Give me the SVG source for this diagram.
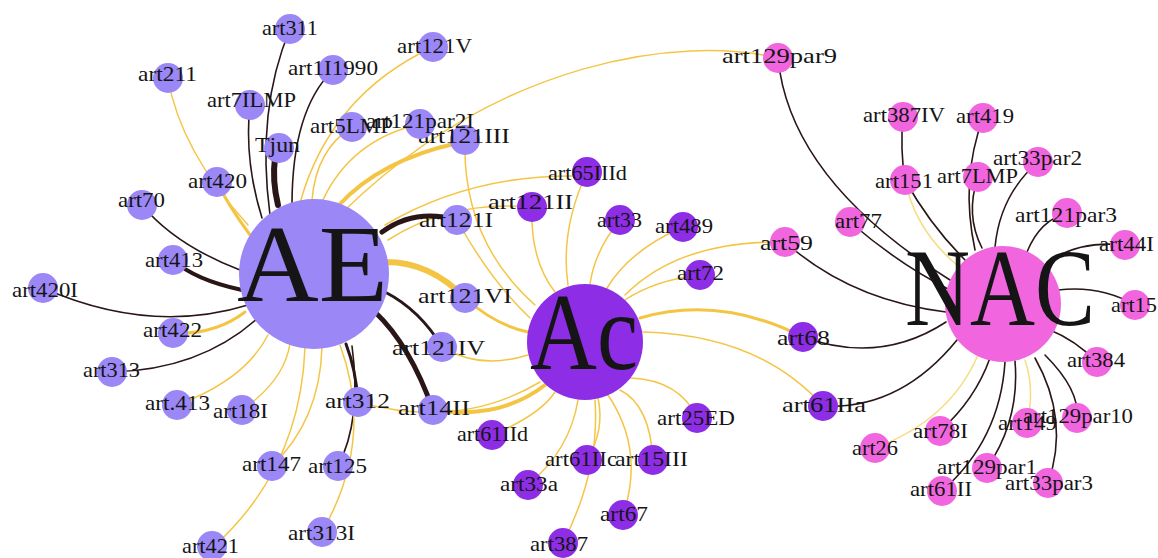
<svg xmlns="http://www.w3.org/2000/svg" width="1158" height="558" viewBox="0 0 1158 558">
<style>
.e{fill:none;stroke-linecap:round}
.d{stroke:#2a1616}
.y{stroke:#f4c545}
.yl{stroke:#f7dc80}
.a{fill:#9b87f5}
.c{fill:#8e2de6}
.p{fill:#f166de}
text{font-family:"Liberation Serif","Times New Roman",serif;fill:#151515;font-size:21px}
.big{font-size:110px}
</style>
<rect width="1158" height="558" fill="#ffffff"/>
<g id="connectors">
<path class="e d" stroke-width="1.6" d="M290 29 Q256 110 270 215"/>
<path class="e d" stroke-width="1.6" d="M250 105 Q244 160 262 218"/>
<path class="e d" stroke-width="6" d="M275 158 Q272 180 278 205"/>
<path class="e d" stroke-width="1.6" d="M333 70 Q292 110 292 205"/>
<path class="e y" stroke-width="1.5" d="M168 78 Q180 150 248 225"/>
<path class="e y" stroke-width="3" d="M217 182 Q228 205 250 235"/>
<path class="e y" stroke-width="1.5" d="M433 47 Q330 95 300 203"/>
<path class="e y" stroke-width="1.5" d="M352 127 Q316 150 312 200"/>
<path class="e y" stroke-width="1.5" d="M420 124 Q350 140 322 202"/>
<path class="e y" stroke-width="4" d="M458 143 Q380 160 338 206"/>
<path class="e y" stroke-width="1.5" d="M778 58 C680 35 500 60 345 210"/>
<path class="e y" stroke-width="1.5" d="M575 176 Q470 175 385 225"/>
<path class="e y" stroke-width="1.5" d="M532 207 Q450 200 388 240"/>
<path class="e d" stroke-width="5" d="M457 220 Q415 208 382 232"/>
<path class="e y" stroke-width="6" d="M465 298 Q430 262 386 262"/>
<path class="e d" stroke-width="3" d="M442 347 Q420 310 385 292"/>
<path class="e d" stroke-width="5" d="M433 410 Q410 345 375 312"/>
<path class="e d" stroke-width="3" d="M358 402 Q356 370 346 344"/>
<path class="e d" stroke-width="1.6" d="M338 466 Q362 420 352 346"/>
<path class="e y" stroke-width="1.5" d="M322 532 Q375 440 340 345"/>
<path class="e y" stroke-width="1.5" d="M272 466 Q320 420 322 347"/>
<path class="e y" stroke-width="1.5" d="M212 548 Q300 470 305 348"/>
<path class="e y" stroke-width="1.5" d="M242 410 Q285 380 290 343"/>
<path class="e y" stroke-width="1.5" d="M177 405 Q245 380 268 335"/>
<path class="e d" stroke-width="1.6" d="M112 372 Q200 370 258 318"/>
<path class="e y" stroke-width="3" d="M173 333 Q215 335 245 312"/>
<path class="e d" stroke-width="1.6" d="M43 288 Q150 335 248 305"/>
<path class="e d" stroke-width="4" d="M173 260 Q195 280 242 290"/>
<path class="e d" stroke-width="1.6" d="M142 205 Q175 245 240 270"/>
<path class="e y" stroke-width="1.5" d="M465 140 Q462 240 535 305"/>
<path class="e y" stroke-width="1.5" d="M457 220 Q490 280 530 318"/>
<path class="e y" stroke-width="1.5" d="M532 207 Q530 260 555 292"/>
<path class="e y" stroke-width="1.5" d="M587 172 Q560 230 568 285"/>
<path class="e y" stroke-width="1.5" d="M620 220 Q595 250 590 284"/>
<path class="e y" stroke-width="1.5" d="M683 227 Q630 250 607 288"/>
<path class="e y" stroke-width="1.5" d="M700 275 Q655 280 625 300"/>
<path class="e y" stroke-width="1.5" d="M785 242 Q680 240 625 295"/>
<path class="e y" stroke-width="3" d="M803 337 Q720 295 640 318"/>
<path class="e y" stroke-width="1.5" d="M823 406 Q760 335 643 332"/>
<path class="e y" stroke-width="1.5" d="M697 418 Q680 380 630 378"/>
<path class="e y" stroke-width="1.5" d="M653 460 Q650 405 620 390"/>
<path class="e y" stroke-width="1.5" d="M623 515 Q645 450 608 395"/>
<path class="e y" stroke-width="1.5" d="M587 460 Q605 430 598 398"/>
<path class="e y" stroke-width="1.5" d="M563 543 Q600 470 595 400"/>
<path class="e y" stroke-width="1.5" d="M528 485 Q570 450 578 400"/>
<path class="e y" stroke-width="1.5" d="M492 435 Q540 415 555 392"/>
<path class="e y" stroke-width="4" d="M433 410 Q500 420 545 385"/>
<path class="e y" stroke-width="1.5" d="M358 402 Q460 430 540 382"/>
<path class="e y" stroke-width="1.5" d="M442 347 Q480 370 528 355"/>
<path class="e y" stroke-width="3" d="M465 298 Q495 325 528 332"/>
<path class="e d" stroke-width="1.6" d="M778 58 Q790 180 950 280"/>
<path class="e d" stroke-width="1.6" d="M850 222 Q900 265 950 290"/>
<path class="e d" stroke-width="1.6" d="M903 117 Q900 150 905 180"/>
<path class="e yl" stroke-width="1.5" d="M905 180 Q915 230 958 266"/>
<path class="e d" stroke-width="1.6" d="M905 180 Q930 225 965 260"/>
<path class="e d" stroke-width="1.6" d="M983 118 Q960 180 975 250"/>
<path class="e d" stroke-width="1.6" d="M978 177 Q965 215 982 248"/>
<path class="e d" stroke-width="1.6" d="M1038 162 Q1000 195 995 247"/>
<path class="e d" stroke-width="1.6" d="M1067 213 Q1040 220 1027 252"/>
<path class="e d" stroke-width="1.6" d="M1125 245 Q1075 240 1045 265"/>
<path class="e d" stroke-width="1.6" d="M1135 305 Q1100 285 1058 290"/>
<path class="e d" stroke-width="1.6" d="M1097 362 Q1075 340 1050 330"/>
<path class="e d" stroke-width="1.6" d="M1077 418 Q1080 390 1045 355"/>
<path class="e d" stroke-width="1.6" d="M1048 483 Q1070 420 1035 358"/>
<path class="e yl" stroke-width="1.5" d="M1027 423 Q1035 390 1025 360"/>
<path class="e d" stroke-width="1.6" d="M987 468 Q1020 420 1015 361"/>
<path class="e d" stroke-width="1.6" d="M942 491 Q1000 440 1005 362"/>
<path class="e d" stroke-width="1.6" d="M940 431 Q975 400 990 358"/>
<path class="e yl" stroke-width="1.5" d="M875 448 Q950 420 978 355"/>
<path class="e d" stroke-width="1.6" d="M823 406 Q900 410 957 340"/>
<path class="e d" stroke-width="1.6" d="M803 337 Q880 365 946 322"/>
<path class="e d" stroke-width="1.6" d="M785 242 Q850 300 946 312"/>
</g>
<g id="node-AE"><circle class="a" cx="314" cy="274" r="75"/><text class="big" x="237" y="301" font-size="118" textLength="151" lengthAdjust="spacingAndGlyphs">AE</text></g>
<g id="node-Ac"><circle class="c" cx="585" cy="342" r="58"/><text class="big" x="530" y="369" font-size="100" textLength="108" lengthAdjust="spacingAndGlyphs">Ac</text></g>
<g id="node-NAC"><circle class="p" cx="1003" cy="304" r="58"/><text class="big" x="905" y="325" font-size="97" textLength="190" lengthAdjust="spacingAndGlyphs">NAC</text></g>
<g id="node-art311"><circle class="a" cx="290" cy="29" r="15"/><text x="262" y="35" textLength="56" lengthAdjust="spacingAndGlyphs">art311</text></g>
<g id="node-art211"><circle class="a" cx="168" cy="78" r="15"/><text x="138" y="81" textLength="59" lengthAdjust="spacingAndGlyphs">art211</text></g>
<g id="node-art7ILMP"><circle class="a" cx="250" cy="105" r="15"/><text x="207" y="107" textLength="89" lengthAdjust="spacingAndGlyphs">art7ILMP</text></g>
<g id="node-Tjun"><circle class="a" cx="279" cy="148" r="15"/><text x="255" y="152" textLength="45" lengthAdjust="spacingAndGlyphs">Tjun</text></g>
<g id="node-art1I1990"><circle class="a" cx="333" cy="70" r="15"/><text x="288" y="75" textLength="90" lengthAdjust="spacingAndGlyphs">art1I1990</text></g>
<g id="node-art121V"><circle class="a" cx="433" cy="47" r="15"/><text x="397" y="53" textLength="75" lengthAdjust="spacingAndGlyphs">art121V</text></g>
<g id="node-art5LMP"><circle class="a" cx="352" cy="127" r="15"/><text x="310" y="133" textLength="83" lengthAdjust="spacingAndGlyphs">art5LMP</text></g>
<g id="node-art121III"><circle class="a" cx="465" cy="140" r="15"/><text x="418" y="143" textLength="92" lengthAdjust="spacingAndGlyphs">art121III</text></g>
<g id="node-art121par2I"><circle class="a" cx="420" cy="124" r="15"/><text x="366" y="128" textLength="108" lengthAdjust="spacingAndGlyphs">art121par2I</text></g>
<g id="node-art420"><circle class="a" cx="217" cy="182" r="15"/><text x="188" y="188" textLength="59" lengthAdjust="spacingAndGlyphs">art420</text></g>
<g id="node-art70"><circle class="a" cx="142" cy="205" r="15"/><text x="118" y="207" textLength="47" lengthAdjust="spacingAndGlyphs">art70</text></g>
<g id="node-art413"><circle class="a" cx="173" cy="260" r="15"/><text x="145" y="267" textLength="58" lengthAdjust="spacingAndGlyphs">art413</text></g>
<g id="node-art420I"><circle class="a" cx="43" cy="288" r="15"/><text x="12" y="297" textLength="66" lengthAdjust="spacingAndGlyphs">art420I</text></g>
<g id="node-art422"><circle class="a" cx="173" cy="333" r="15"/><text x="143" y="337" textLength="59" lengthAdjust="spacingAndGlyphs">art422</text></g>
<g id="node-art313"><circle class="a" cx="112" cy="372" r="15"/><text x="83" y="377" textLength="57" lengthAdjust="spacingAndGlyphs">art313</text></g>
<g id="node-art.413"><circle class="a" cx="177" cy="405" r="15"/><text x="145" y="410" textLength="65" lengthAdjust="spacingAndGlyphs">art.413</text></g>
<g id="node-art18I"><circle class="a" cx="242" cy="410" r="15"/><text x="213" y="418" textLength="55" lengthAdjust="spacingAndGlyphs">art18I</text></g>
<g id="node-art147"><circle class="a" cx="272" cy="466" r="15"/><text x="242" y="471" textLength="59" lengthAdjust="spacingAndGlyphs">art147</text></g>
<g id="node-art421"><circle class="a" cx="212" cy="546" r="15"/><text x="182" y="553" textLength="57" lengthAdjust="spacingAndGlyphs">art421</text></g>
<g id="node-art312"><circle class="a" cx="358" cy="402" r="15"/><text x="325" y="408" textLength="65" lengthAdjust="spacingAndGlyphs">art312</text></g>
<g id="node-art125"><circle class="a" cx="338" cy="466" r="15"/><text x="308" y="473" textLength="59" lengthAdjust="spacingAndGlyphs">art125</text></g>
<g id="node-art313I"><circle class="a" cx="322" cy="532" r="15"/><text x="288" y="540" textLength="67" lengthAdjust="spacingAndGlyphs">art313I</text></g>
<g id="node-art14II"><circle class="a" cx="433" cy="410" r="15"/><text x="398" y="415" textLength="72" lengthAdjust="spacingAndGlyphs">art14II</text></g>
<g id="node-art121IV"><circle class="a" cx="442" cy="347" r="15"/><text x="392" y="355" textLength="93" lengthAdjust="spacingAndGlyphs">art121IV</text></g>
<g id="node-art121VI"><circle class="a" cx="465" cy="298" r="15"/><text x="418" y="303" textLength="94" lengthAdjust="spacingAndGlyphs">art121VI</text></g>
<g id="node-art121I"><circle class="a" cx="457" cy="220" r="15"/><text x="419" y="227" textLength="74" lengthAdjust="spacingAndGlyphs">art121I</text></g>
<g id="node-art65IIId"><circle class="c" cx="587" cy="172" r="15"/><text x="548" y="180" textLength="79" lengthAdjust="spacingAndGlyphs">art65IIId</text></g>
<g id="node-art121II"><circle class="c" cx="532" cy="207" r="15"/><text x="488" y="209" textLength="85" lengthAdjust="spacingAndGlyphs">art121II</text></g>
<g id="node-art33"><circle class="c" cx="620" cy="220" r="15"/><text x="597" y="227" textLength="45" lengthAdjust="spacingAndGlyphs">art33</text></g>
<g id="node-art489"><circle class="c" cx="683" cy="227" r="15"/><text x="655" y="233" textLength="58" lengthAdjust="spacingAndGlyphs">art489</text></g>
<g id="node-art72"><circle class="c" cx="700" cy="275" r="15"/><text x="677" y="280" textLength="47" lengthAdjust="spacingAndGlyphs">art72</text></g>
<g id="node-art68"><circle class="c" cx="803" cy="337" r="15"/><text x="777" y="345" textLength="53" lengthAdjust="spacingAndGlyphs">art68</text></g>
<g id="node-art61IIa"><circle class="c" cx="823" cy="406" r="15"/><text x="782" y="412" font-size="22" textLength="84" lengthAdjust="spacingAndGlyphs">art61IIa</text></g>
<g id="node-art25ED"><circle class="c" cx="697" cy="418" r="15"/><text x="657" y="425" textLength="78" lengthAdjust="spacingAndGlyphs">art25ED</text></g>
<g id="node-art15III"><circle class="c" cx="653" cy="460" r="15"/><text x="615" y="466" textLength="73" lengthAdjust="spacingAndGlyphs">art15III</text></g>
<g id="node-art61IIc"><circle class="c" cx="587" cy="460" r="15"/><text x="545" y="466" textLength="72" lengthAdjust="spacingAndGlyphs">art61IIc</text></g>
<g id="node-art67"><circle class="c" cx="623" cy="515" r="15"/><text x="600" y="521" textLength="48" lengthAdjust="spacingAndGlyphs">art67</text></g>
<g id="node-art387"><circle class="c" cx="563" cy="543" r="15"/><text x="530" y="551" textLength="58" lengthAdjust="spacingAndGlyphs">art387</text></g>
<g id="node-art33a"><circle class="c" cx="528" cy="485" r="15"/><text x="500" y="491" textLength="58" lengthAdjust="spacingAndGlyphs">art33a</text></g>
<g id="node-art61IId"><circle class="c" cx="492" cy="435" r="15"/><text x="457" y="441" textLength="71" lengthAdjust="spacingAndGlyphs">art61IId</text></g>
<g id="node-art129par9"><circle class="p" cx="778" cy="58" r="15"/><text x="722" y="63" font-size="22" textLength="115" lengthAdjust="spacingAndGlyphs">art129par9</text></g>
<g id="node-art387IV"><circle class="p" cx="903" cy="117" r="15"/><text x="863" y="122" textLength="82" lengthAdjust="spacingAndGlyphs">art387IV</text></g>
<g id="node-art419"><circle class="p" cx="983" cy="118" r="15"/><text x="956" y="123" textLength="58" lengthAdjust="spacingAndGlyphs">art419</text></g>
<g id="node-art151"><circle class="p" cx="905" cy="180" r="15"/><text x="875" y="188" textLength="58" lengthAdjust="spacingAndGlyphs">art151</text></g>
<g id="node-art7LMP"><circle class="p" cx="978" cy="177" r="15"/><text x="937" y="183" textLength="81" lengthAdjust="spacingAndGlyphs">art7LMP</text></g>
<g id="node-art33par2"><circle class="p" cx="1038" cy="162" r="15"/><text x="993" y="165" textLength="89" lengthAdjust="spacingAndGlyphs">art33par2</text></g>
<g id="node-art77"><circle class="p" cx="850" cy="222" r="15"/><text x="835" y="228" textLength="47" lengthAdjust="spacingAndGlyphs">art77</text></g>
<g id="node-art59"><circle class="p" cx="785" cy="242" r="15"/><text x="760" y="250" font-size="22" textLength="53" lengthAdjust="spacingAndGlyphs">art59</text></g>
<g id="node-art121par3"><circle class="p" cx="1067" cy="213" r="15"/><text x="1015" y="222" textLength="102" lengthAdjust="spacingAndGlyphs">art121par3</text></g>
<g id="node-art44I"><circle class="p" cx="1125" cy="245" r="15"/><text x="1099" y="251" textLength="55" lengthAdjust="spacingAndGlyphs">art44I</text></g>
<g id="node-art15"><circle class="p" cx="1135" cy="305" r="15"/><text x="1111" y="312" textLength="46" lengthAdjust="spacingAndGlyphs">art15</text></g>
<g id="node-art384"><circle class="p" cx="1097" cy="362" r="15"/><text x="1067" y="367" textLength="58" lengthAdjust="spacingAndGlyphs">art384</text></g>
<g id="node-art149"><circle class="p" cx="1027" cy="423" r="15"/><text x="998" y="430" textLength="59" lengthAdjust="spacingAndGlyphs">art149</text></g>
<g id="node-art129par10"><circle class="p" cx="1077" cy="418" r="15"/><text x="1023" y="423" textLength="110" lengthAdjust="spacingAndGlyphs">art129par10</text></g>
<g id="node-art78I"><circle class="p" cx="940" cy="431" r="15"/><text x="913" y="438" textLength="55" lengthAdjust="spacingAndGlyphs">art78I</text></g>
<g id="node-art26"><circle class="p" cx="875" cy="448" r="15"/><text x="852" y="455" textLength="46" lengthAdjust="spacingAndGlyphs">art26</text></g>
<g id="node-art61II"><circle class="p" cx="942" cy="491" r="15"/><text x="910" y="496" textLength="62" lengthAdjust="spacingAndGlyphs">art61II</text></g>
<g id="node-art129par1"><circle class="p" cx="987" cy="468" r="15"/><text x="937" y="474" textLength="100" lengthAdjust="spacingAndGlyphs">art129par1</text></g>
<g id="node-art33par3"><circle class="p" cx="1048" cy="483" r="15"/><text x="1005" y="490" textLength="88" lengthAdjust="spacingAndGlyphs">art33par3</text></g>
</svg>
